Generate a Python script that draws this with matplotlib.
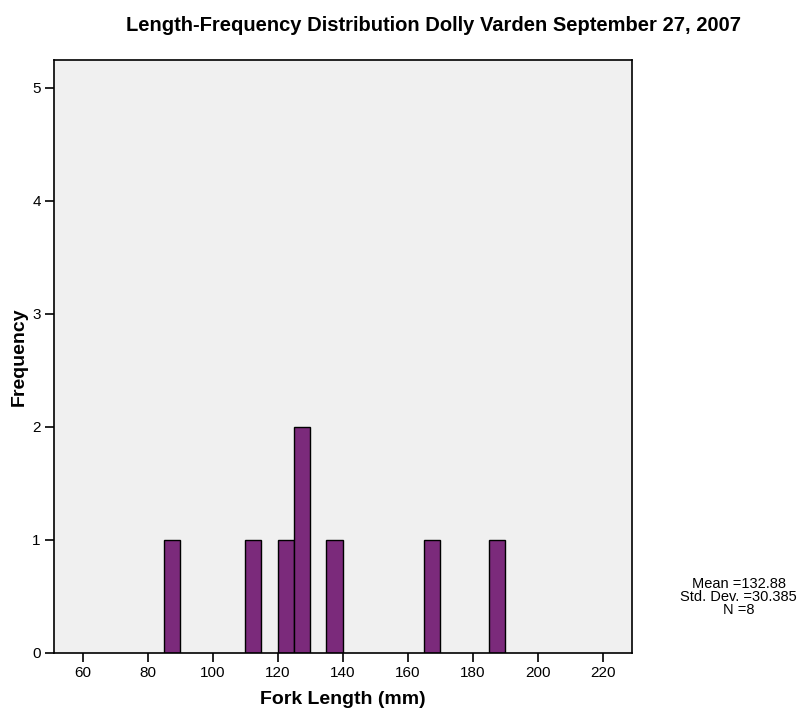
import matplotlib
matplotlib.use("Agg")
import matplotlib.pyplot as plt

plt.rcParams['font.family'] = ['Liberation Sans', 'DejaVu Sans']

# Histogram bins (5 mm wide) and fish counts
bin_starts = [85, 110, 120, 125, 135, 165, 185]
counts = [1, 1, 1, 2, 1, 1, 1]
bin_width = 5

x_ticks = [60, 80, 100, 120, 140, 160, 180, 200, 220]
y_ticks = [0, 1, 2, 3, 4, 5]

stats_text = "Mean =132.88\nStd. Dev. =30.385\nN =8"

fig = plt.figure(figsize=(8.02, 7.12), dpi=100)
ax = fig.add_axes([0.0673, 0.0833, 0.7204, 0.8324])
ax.set_facecolor('#F0F0F0')

ax.bar(bin_starts, counts, width=bin_width, align='edge',
       color='#7B2A7B', edgecolor='black', linewidth=1.0, zorder=2)

ax.set_xlim(51.2, 228.9)
ax.set_ylim(0, 5.245)
ax.set_xticks(x_ticks)
ax.set_yticks(y_ticks)
ax.tick_params(direction='out', length=6.5, width=1.2, labelsize=11, pad=3)
for s in ax.spines.values():
    s.set_linewidth(1.2)

ax.set_xlabel('Fork Length (mm)', fontsize=14, fontweight='bold', labelpad=8)
ax.set_ylabel('Frequency', fontsize=14, fontweight='bold', labelpad=3)
fig.suptitle('Length-Frequency Distribution Dolly Varden September 27, 2007',
             x=0.541, y=0.978, fontsize=14.5, fontweight='bold')

fig.text(0.921, 0.1615, stats_text, ha='center', va='center', fontsize=10.5,
         linespacing=0.95)

fig.savefig('out.png', dpi=100)
